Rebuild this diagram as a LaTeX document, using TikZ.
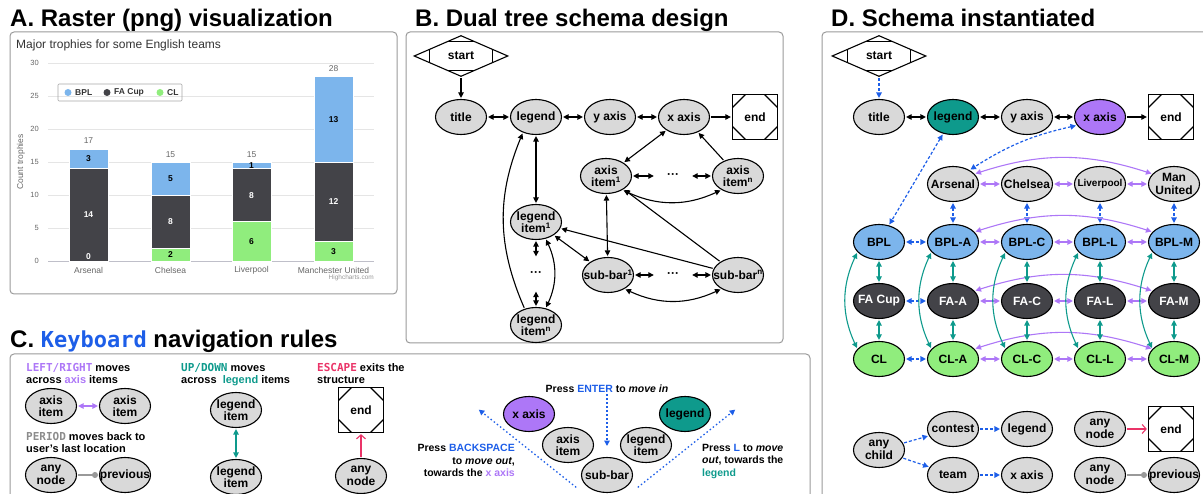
\documentclass[tikz,border=0pt]{standalone}
\usepackage{fontspec}
\setmainfont{Liberation Sans}
\setmonofont{DejaVu Sans Mono}
\usepackage{xcolor}
\usetikzlibrary{shapes.geometric, arrows.meta, positioning}

\definecolor{bplblue}{HTML}{7CB5EC}
\definecolor{fadark}{HTML}{434348}
\definecolor{clgreen}{HTML}{90ED7D}
\definecolor{nodegray}{HTML}{D9D9D9}
\definecolor{navteal}{HTML}{0E9A8C}
\definecolor{navpurple}{HTML}{AD77F7}
\definecolor{navblue}{HTML}{1D5EE8}
\definecolor{navpink}{HTML}{EA3468}
\definecolor{framegray}{HTML}{9A9A9A}
\definecolor{txtgray}{HTML}{666666}

\newcommand{\fsz}[1]{\fontsize{#1}{#1}\selectfont}
\newcommand{\navkey}[2]{\textcolor{#1}{\texttt{#2}}}

\begin{document}
\begin{tikzpicture}[
        x=1pt, y=-1pt,
        >={Triangle[length=5.5pt, width=5.5pt]},
        panel/.style={draw=framegray, line width=1pt, rounded corners=4pt},
        ptitle/.style={anchor=base west, inner sep=0pt, font=\bfseries\fsz{24}},
        el/.style={ellipse, draw, line width=1.1pt, fill=nodegray, minimum width=51pt, minimum height=35pt,
            inner xsep=-8pt, inner ysep=-4pt, align=center, font=\bfseries\fontsize{12}{12.5}\selectfont},
        startbox/.style={diamond, draw, line width=1.1pt, fill=white, minimum width=94pt, minimum height=41pt,
            inner sep=0pt, font=\bfseries\fsz{12},
            path picture={\draw[line width=1.1pt] ([shift={(15pt,-6pt)}]path picture bounding box.north west)
                rectangle ([shift={(-15pt,6pt)}]path picture bounding box.south east);}},
        endbox/.style={rectangle, draw, line width=1.3pt, fill=white, minimum width=45pt, minimum height=45pt,
            inner sep=0pt, font=\bfseries\fsz{12},
            path picture={\draw[line width=1.1pt]
                ([xshift=13pt]path picture bounding box.north west) -- ([yshift=-13pt]path picture bounding box.north west)
                ([xshift=-13pt]path picture bounding box.north east) -- ([yshift=-13pt]path picture bounding box.north east)
                ([xshift=13pt]path picture bounding box.south west) -- ([yshift=13pt]path picture bounding box.south west)
                ([xshift=-13pt]path picture bounding box.south east) -- ([yshift=13pt]path picture bounding box.south east);}},
        etc/.style={inner xsep=12pt, inner ysep=14pt, font=\bfseries\fsz{12}},
        link/.style={line width=1.1pt, shorten >=1pt, shorten <=1pt},
        blink/.style={link, navblue, line width=1.2pt, dash pattern=on 3pt off 2pt},
        dotlink/.style={link, navblue, line width=1.3pt, dash pattern=on 1.5pt off 2.5pt},
        plink/.style={link, navpurple, <->},
        tlink/.style={link, navteal, <->},
        exitlink/.style={link, navpink, -{Straight Barb[length=4pt, width=9pt]}},
        backlink/.style={link, black!40, line width=1.3pt, -{Circle[length=6pt]}},
        note/.style={inner sep=0pt, align=left, anchor=north west, font=\bfseries\fontsize{11}{12.5}\selectfont},
        barval/.style={inner sep=0pt, font=\bfseries\fsz{8.5}},
        chartlbl/.style={inner sep=0pt, font=\fsz{8.5}, text=txtgray}
    ]
    \useasboundingbox (0,0) rectangle (1203,494);

    % panel frames and titles
    \draw[panel] (10,32) rectangle (397,294);
    \draw[panel] (406,32) rectangle (783,343);
    \draw[panel] (10,354) rectangle (810,520);
    \draw[panel] (822,32) rectangle (1220,520);
    \node[ptitle] (ta) at (10,26.5) {A. Raster (png) visualization};
    \node[ptitle] (tb) at (415,26.5) {B. Dual tree schema design};
    \node[ptitle] (tc) at (10,347.5) {C. \textcolor{navblue}{\ttfamily\fsz{22}Keyboard} navigation rules};
    \node[ptitle] (td) at (831,26.5) {D. Schema instantiated};

    % A: bar chart
    \node[anchor=base west, inner sep=0pt, font=\fsz{12}, text=black!80] (charttitle) at (16,49) {Major trophies for some English teams};
    \foreach \v in {0,5,...,30} {
        \draw[black!10, line width=0.6pt] (48,{261-6.59*\v}) -- (374,{261-6.59*\v});
        \node[chartlbl, anchor=east, font=\fsz{7.5}] (tick\v) at (39,{261-6.59*\v}) {\v};
    }
    \draw[blue!15!black!25, line width=0.6pt] (48,261) -- (374,261);
    \node[chartlbl, rotate=90] (ylabel) at (21,162) {Count trophies};
    \foreach \bx/\cl/\fa/\bpl/\team [count=\i] in {88.5/0/14/3/Arsenal, 170.5/2/8/5/Chelsea,
            251.5/6/8/1/Liverpool, 333.5/3/12/13/Manchester United} {
        \pgfmathsetmacro{\ya}{261-6.59*\cl}
        \pgfmathsetmacro{\yb}{\ya-6.59*\fa}
        \pgfmathsetmacro{\yc}{\yb-6.59*\bpl}
        \pgfmathtruncatemacro{\tot}{\cl+\fa+\bpl}
        \filldraw[fill=clgreen, draw=white, line width=0.5pt] ({\bx-19.5},261) rectangle ({\bx+19.5},\ya);
        \filldraw[fill=fadark, draw=white, line width=0.5pt] ({\bx-19.5},\ya) rectangle ({\bx+19.5},\yb);
        \filldraw[fill=bplblue, draw=white, line width=0.5pt] ({\bx-19.5},\yb) rectangle ({\bx+19.5},\yc);
        \node[barval] (vcl\i) at (\bx,{min(257,(261+\ya)/2)}) {\ifnum\cl=0 \textcolor{white}{0}\else\cl\fi};
        \node[barval, text=white] (vfa\i) at (\bx,{(\ya+\yb)/2}) {\fa};
        \node[barval] (vbpl\i) at (\bx,{(\yb+\yc)/2}) {\bpl};
        \node[chartlbl] (tot\i) at (\bx,{\yc-8}) {\tot};
        \node[chartlbl] (team\i) at (\bx,270) {\team};
    }
    \node[chartlbl, anchor=east, font=\fsz{6.5}, text=black!40] (credit) at (374,278) {Highcharts.com};
    \draw[black!35, line width=0.6pt, rounded corners=1pt] (58,84) rectangle (182,101);
    \fill[bplblue] (68,92.5) circle (3.5);
    \fill[fadark] (107,92.5) circle (3.5);
    \fill[clgreen] (160,92.5) circle (3.5);
    \node[barval, anchor=west, text=black!80] (lgbpl) at (75,92.5) {BPL};
    \node[barval, anchor=west, text=black!80] (lgfa) at (114,92.5) {FA Cup};
    \node[barval, anchor=west, text=black!80] (lgcl) at (167,92.5) {CL};

    % B: dual tree schema
    \node[startbox] (bstart) at (461,56) {start};
    \node[el] (btitle) at (461,117) {title};
    \node[el] (blegend) at (536,117) {legend};
    \node[el] (byaxis) at (610,117) {y axis};
    \node[el] (bxaxis) at (684,117) {x axis};
    \node[endbox] (bend) at (755,117) {end};
    \node[el] (baxisa) at (606,176) {axis\\item\textsuperscript{1}};
    \node[etc] (bdotsa) at (673,176) {···};
    \node[el] (baxisn) at (738,176) {axis\\item\textsuperscript{n}};
    \node[el] (blia) at (536,222) {legend\\item\textsuperscript{1}};
    \node[etc] (bdotsl) at (536,274) {···};
    \node[el] (blin) at (536,325) {legend\\item\textsuperscript{n}};
    \node[el] (bsuba) at (608,275) {sub-bar\textsuperscript{1}};
    \node[etc] (bdotss) at (673,275) {···};
    \node[el] (bsubn) at (738,275) {sub-bar\textsuperscript{n}};

    \draw[link, ->] (bstart) -- (btitle);
    \draw[link, <->] (btitle) -- (blegend);
    \draw[link, <->] (blegend) -- (byaxis);
    \draw[link, <->] (byaxis) -- (bxaxis);
    \draw[link, ->] (bxaxis) -- (bend);
    \draw[link, <->] (bxaxis) -- (baxisa);
    \draw[link, ->] (baxisn) -- (bxaxis);
    \draw[link, <->] (baxisa) -- (bdotsa);
    \draw[link, <->] (bdotsa) -- (baxisn);
    \draw[link, <->] (baxisa.-40) to[out=-25, in=-155] (baxisn.220);
    \draw[link, <->] (blegend) -- (blia);
    \draw[link, <->] (blia) -- (bdotsl);
    \draw[link, <->] (bdotsl) -- (blin);
    \draw[link, <->] (blin.60) to[bend right=25] (blia.-60);
    \draw[link, ->] (blin.125) to[bend left=23] (blegend.-130);
    \draw[link, <->] (blia) -- (bsuba);
    \draw[link, ->] (bsubn) -- (blia);
    \draw[link, ->] (bsubn) -- (baxisa);
    \draw[link, <->] (baxisa) -- (bsuba);
    \draw[link, <->] (bsuba) -- (bdotss);
    \draw[link, <->] (bdotss) -- (bsubn);
    \draw[link, <->] (bsuba.-40) to[out=-25, in=-155] (bsubn.220);

    % C: keyboard rules
    \node[note] (cnlr) at (26,363) {\navkey{navpurple}{LEFT/RIGHT} moves\\across \textcolor{navpurple}{axis} items};
    \node[el] (caxa) at (51,406) {axis\\item};
    \node[el] (caxb) at (125,406) {axis\\item};
    \draw[plink] (caxa) -- (caxb);
    \node[note] (cnper) at (26,432) {\navkey{black!45}{PERIOD} moves back to\\user’s last location};
    \node[el] (cany) at (51,475) {any\\node};
    \node[el] (cprev) at (125,475) {previous};
    \draw[backlink] (cany) -- (cprev);
    \node[note] (cnud) at (181,363) {\navkey{navteal}{UP/DOWN} moves\\across \ \textcolor{navteal}{legend} items};
    \node[el] (clia) at (236,410) {legend\\item};
    \node[el] (clib) at (236,477) {legend\\item};
    \draw[tlink] (clia) -- (clib);
    \node[note] (cnesc) at (317,363) {\navkey{navpink}{ESCAPE} exits the\\structure};
    \node[endbox] (cend) at (361,410) {end};
    \node[el] (canye) at (361,476) {any\\node};
    \draw[exitlink] (canye) -- (cend);

    \node[note, anchor=base, align=center, font=\bfseries\fontsize{10.5}{12.5}\selectfont] (center) at (607,393) {Press \textcolor{navblue}{ENTER} to \textit{move in}};
    \node[el, fill=navpurple] (cxax) at (529,414) {x axis};
    \node[el] (caxi) at (568,445) {axis\\item};
    \node[el] (clegi) at (646,445) {legend\\item};
    \node[el, fill=navteal] (cleg) at (685,414) {legend};
    \node[el] (csub) at (607,475) {sub-bar};
    \coordinate (cin) at (607,447);
    \coordinate (cbsa) at (577,488);
    \coordinate (cbsb) at (478,409);
    \coordinate (cla) at (637,488);
    \coordinate (clb) at (736,409);
    \draw[dotlink, ->] (center) -- (cin);
    \draw[dotlink, ->] (cbsa) -- (cbsb);
    \draw[dotlink, ->] (cla) -- (clb);
    \node[note, anchor=north east, align=right, font=\bfseries\fontsize{10.5}{12.5}\selectfont] (cnbs) at (515,444) {Press \textcolor{navblue}{BACKSPACE}\\to \textit{move out},\\towards the \textcolor{navpurple}{x axis}};
    \node[note, font=\bfseries\fontsize{10.5}{12.5}\selectfont] (cnl) at (702,444) {Press \textcolor{navblue}{L} to \textit{move}\\\textit{out}, towards the\\\textcolor{navteal}{legend}};

    % D: schema instantiated
    \node[startbox] (dstart) at (879,56) {start};
    \node[el] (dtitle) at (879,117) {title};
    \node[el, fill=navteal] (dlegend) at (953,117) {legend};
    \node[el] (dyaxis) at (1027,117) {y axis};
    \node[el, fill=navpurple] (dxaxis) at (1100,117) {x axis};
    \node[endbox] (dend) at (1171,117) {end};

    \node[el] (tmA) at (953,184) {Arsenal};
    \node[el] (tmC) at (1027,184) {Chelsea};
    \node[el, font=\bfseries\fsz{10}] (tmL) at (1100,184) {Liverpool};
    \node[el] (tmM) at (1174,184) {Man\\United};

    \node[el, fill=bplblue] (bpl0) at (879,242) {BPL};
    \node[el, fill=bplblue] (bplA) at (953,242) {BPL-A};
    \node[el, fill=bplblue] (bplC) at (1027,242) {BPL-C};
    \node[el, fill=bplblue] (bplL) at (1100,242) {BPL-L};
    \node[el, fill=bplblue] (bplM) at (1174,242) {BPL-M};

    \node[el, fill=fadark, text=white] (fa0) at (879,301) {FA Cup};
    \node[el, fill=fadark, text=white] (faA) at (953,301) {FA-A};
    \node[el, fill=fadark, text=white] (faC) at (1027,301) {FA-C};
    \node[el, fill=fadark, text=white] (faL) at (1100,301) {FA-L};
    \node[el, fill=fadark, text=white] (faM) at (1174,301) {FA-M};

    \node[el, fill=clgreen] (cl0) at (879,359) {CL};
    \node[el, fill=clgreen] (clA) at (953,359) {CL-A};
    \node[el, fill=clgreen] (clC) at (1027,359) {CL-C};
    \node[el, fill=clgreen] (clL) at (1100,359) {CL-L};
    \node[el, fill=clgreen] (clM) at (1174,359) {CL-M};

    \draw[blink, ->] (dstart) -- (dtitle);
    \draw[link, <->] (dtitle) -- (dlegend);
    \draw[link, <->] (dlegend) -- (dyaxis);
    \draw[link, <->] (dyaxis) -- (dxaxis);
    \draw[link, ->] (dxaxis) -- (dend);
    \draw[blink, <->] (dlegend) -- (bpl0);
    \draw[blink, <->] (dxaxis.200) to[bend right=10] (tmA.40);

    \draw[plink] (tmA) -- (tmC);
    \draw[plink] (tmC) -- (tmL);
    \draw[plink] (tmL) -- (tmM);
    \draw[plink] (tmA.25) to[bend left=18] (tmM.155);
    \foreach \c in {A,C,L,M} {
        \draw[blink, <->] (tm\c) -- (bpl\c);
    }
    \foreach \r in {bpl,fa,cl} {
        \draw[blink, <->] (\r0) -- (\r A);
        \draw[plink] (\r A) -- (\r C);
        \draw[plink] (\r C) -- (\r L);
        \draw[plink] (\r L) -- (\r M);
        \draw[plink] (\r A.25) to[bend left=18] (\r M.155);
    }
    \foreach \c in {0,A,C,L,M} {
        \draw[tlink] (bpl\c) -- (fa\c);
        \draw[tlink] (fa\c) -- (cl\c);
        \draw[tlink] (bpl\c.-155) to[bend right=25] (cl\c.155);
    }

    \node[el] (danyc) at (879,450) {any\\child};
    \node[el] (dcontest) at (953,429) {contest};
    \node[el] (dlegd) at (1027,429) {legend};
    \node[el] (dteam) at (953,475) {team};
    \node[el] (dxax) at (1027,475) {x axis};
    \node[el] (danya) at (1100,429) {any\\node};
    \node[endbox] (dendb) at (1171,429) {end};
    \node[el] (danyb) at (1100,475) {any\\node};
    \node[el] (dprev) at (1174,475) {previous};
    \draw[blink, ->] (danyc) -- (dcontest);
    \draw[blink, ->] (danyc) -- (dteam);
    \draw[blink, ->] (dcontest) -- (dlegd);
    \draw[blink, ->] (dteam) -- (dxax);
    \draw[exitlink] (danya) -- (dendb);
    \draw[backlink] (danyb) -- (dprev);
\end{tikzpicture}
\end{document}
